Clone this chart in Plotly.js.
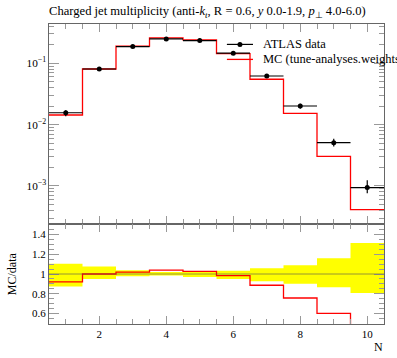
<!DOCTYPE html>
<html><head><meta charset="utf-8">
<script src="https://cdn.plot.ly/plotly-3.0.1.min.js"></script>
<style>html,body{margin:0;padding:0;background:#fff}#chart{width:397px;height:358px}</style>
</head><body><div id="chart"></div>
<script>
const binCenters = [1, 2, 3, 4, 5, 6, 7, 8, 9, 10];
const binEdges = [0.5, 1.5, 2.5, 3.5, 4.5, 5.5, 6.5, 7.5, 8.5, 9.5, 10.5];
const dataValues = [0.0156, 0.0807, 0.187, 0.249, 0.234, 0.146, 0.062, 0.0201, 0.00507, 0.00094];
const dataErrUpRel = [0.104, 0.077, 0.037, 0.020, 0.027, 0.034, 0.058, 0.088, 0.159, 0.315];
const dataErrDnRel = [0.126, 0.050, 0.024, 0.014, 0.030, 0.050, 0.074, 0.098, 0.135, 0.193];
const mcValues = [0.01434, 0.0807, 0.1907, 0.259, 0.2403, 0.1435, 0.0549, 0.0152, 0.00304, 0.00041];
const xTickVals = [2, 4, 6, 8, 10];
const ratioTickVals = [0.6, 0.8, 1, 1.2, 1.4];
const ratioTickText = ['0.6', '0.8', '1', '1.2', '1.4'];

const FONT = 'Liberation Serif';
const step = v => v.concat([v[v.length - 1]]);
const ratio = mcValues.map((m, i) => m / dataValues[i]);
const bandUp = dataErrUpRel.map(e => 1 + e);
const bandDn = dataErrDnRel.map(e => 1 - e);

const traces = [
  {x: binEdges, y: step(mcValues), xaxis: 'x', yaxis: 'y', mode: 'lines',
   line: {color: '#ff0000', width: 1.3, shape: 'hv'}, hoverinfo: 'skip'},
  {x: binCenters, y: dataValues, xaxis: 'x', yaxis: 'y', mode: 'markers',
   marker: {color: '#000', size: 5},
   error_x: {type: 'constant', value: 0.5, width: 0, thickness: 1.2, color: '#000'},
   error_y: {type: 'data', array: dataValues.map((d, i) => d * dataErrUpRel[i]),
             arrayminus: dataValues.map((d, i) => d * dataErrDnRel[i]), width: 0, thickness: 1.2, color: '#000'}},
  {x: binEdges, y: step(bandDn), xaxis: 'x2', yaxis: 'y2', mode: 'lines',
   line: {width: 0, shape: 'hv'}, hoverinfo: 'skip'},
  {x: binEdges, y: step(bandUp), xaxis: 'x2', yaxis: 'y2', mode: 'lines', fill: 'tonexty',
   fillcolor: '#ffff00', line: {width: 0, shape: 'hv'}, hoverinfo: 'skip'},
  {x: binEdges, y: step(ratio), xaxis: 'x2', yaxis: 'y2', mode: 'lines',
   line: {color: '#ff0000', width: 1.3, shape: 'hv'}, hoverinfo: 'skip'}
];

const axCommon = {showline: true, linecolor: '#666', linewidth: 1, mirror: 'allticks',
  ticks: 'inside', tickcolor: '#999', zeroline: false, showgrid: false,
  tickfont: {family: FONT, size: 11, color: '#000'}};

const layout = {
  width: 397, height: 358,
  margin: {l: 49, r: 13, t: 24, b: 34},
  paper_bgcolor: '#fff', plot_bgcolor: '#fff',
  showlegend: false,
  font: {family: FONT, color: '#000'},
  title: {text: 'Charged jet multiplicity (anti-<i>k<sub>t</sub></i>, R = 0.6, <i>y</i> 0.0-1.9, <i>p</i><sub>⊥</sub> 4.0-6.0)',
          font: {family: FONT, size: 12.6, color: '#000'}, x: 0, xref: 'paper', xanchor: 'left',
          y: 1 - 11 / 358, yanchor: 'middle'},
  xaxis: Object.assign({}, axCommon, {anchor: 'y', range: [0.5, 10.5], tickmode: 'array', tickvals: xTickVals,
    showticklabels: false, ticklen: 8,
    minor: {ticks: 'inside', dtick: 0.5, tick0: 0.5, ticklen: 5, tickcolor: '#999'}}),
  yaxis: Object.assign({}, axCommon, {anchor: 'x', domain: [1 / 3, 1], type: 'log', range: [-3.62, -0.36],
    dtick: 1, exponentformat: 'power', ticklen: 10, tickfont: {family: FONT, size: 9, color: '#000'},
    minor: {ticks: 'inside', dtick: 'D1', ticklen: 5, tickcolor: '#999'}}),
  xaxis2: Object.assign({}, axCommon, {anchor: 'y2', range: [0.5, 10.5], tickmode: 'array', tickvals: xTickVals,
    ticklen: 8, minor: {ticks: 'inside', dtick: 0.5, tick0: 0.5, ticklen: 5, tickcolor: '#999'}}),
  yaxis2: Object.assign({}, axCommon, {anchor: 'x2', domain: [0, 1 / 3], range: [0.492, 1.508],
    tickmode: 'array', tickvals: ratioTickVals, ticktext: ratioTickText, ticklen: 10,
    minor: {ticks: 'inside', dtick: 0.05, tick0: 0, ticklen: 5, tickcolor: '#999'}}),
  shapes: [
    {type: 'line', xref: 'x2 domain', yref: 'y2', x0: 0, x1: 1, y0: 1, y1: 1,
     line: {color: 'rgba(80,80,80,0.6)', width: 1}, layer: 'above'},
    {type: 'line', xref: 'paper', yref: 'paper', x0: 0.531, x1: 0.609, y0: 0.932, y1: 0.932,
     line: {color: '#000', width: 1.2}},
    {type: 'circle', xref: 'paper', yref: 'paper', xsizemode: 'pixel', ysizemode: 'pixel',
     xanchor: 0.570, yanchor: 0.932, x0: -2.5, x1: 2.5, y0: -2.5, y1: 2.5,
     fillcolor: '#000', line: {width: 0}},
    {type: 'line', xref: 'paper', yref: 'paper', x0: 0.531, x1: 0.609, y0: 0.882, y1: 0.882,
     line: {color: '#ff0000', width: 1.3}}
  ],
  annotations: [
    {text: 'ATLAS data', xref: 'paper', yref: 'paper', x: 0.634, y: 0.932, xanchor: 'left', yanchor: 'middle',
     showarrow: false, font: {family: FONT, size: 12.5, color: '#000'}},
    {text: 'MC (tune-analyses.weights)', xref: 'paper', yref: 'paper', x: 0.634, y: 0.882, xanchor: 'left', yanchor: 'middle',
     showarrow: false, font: {family: FONT, size: 12.5, color: '#000'}},
    {text: 'MC/data', xref: 'paper', yref: 'paper', x: -0.110, y: 0.1667, xanchor: 'center', yanchor: 'middle',
     textangle: -90, showarrow: false, font: {family: FONT, size: 12, color: '#000'}},
    {text: 'N', xref: 'paper', yref: 'paper', x: 0.985, y: -0.0767, xanchor: 'center', yanchor: 'middle',
     showarrow: false, font: {family: FONT, size: 12, color: '#000'}}
  ]
};

Plotly.newPlot('chart', traces, layout, {staticPlot: true, displayModeBar: false});
</script>
</body></html>
